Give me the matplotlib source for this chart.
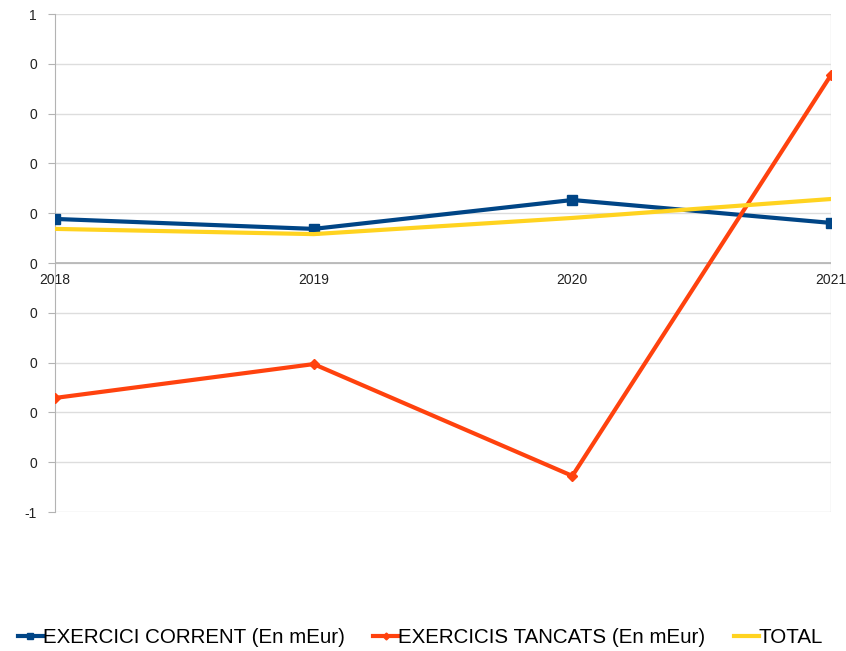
import numpy as np
import matplotlib.pyplot as plt
from matplotlib.ticker import FuncFormatter

years = ['2018', '2019', '2020', '2021']
corrent = [0.177, 0.137, 0.253, 0.161]
tancats = [-0.542, -0.406, -0.855, 0.755]
total = [0.137, 0.116, 0.181, 0.257]

plt.rcParams['font.family'] = ['Liberation Sans', 'DejaVu Sans']

fig = plt.figure(figsize=(8.46, 6.51), dpi=100)
ax = fig.add_axes([55 / 846, (651 - 512) / 651, 776 / 846, 498 / 651])

x = np.arange(len(years))
ax.plot(x, corrent, color='#004586', lw=3, marker='s', ms=7, label='EXERCICI CORRENT (En mEur)', zorder=3)
ax.plot(x, tancats, color='#ff420e', lw=3, marker='D', ms=5, label='EXERCICIS TANCATS (En mEur)', zorder=3)
ax.plot(x, total, color='#ffd320', lw=3, label='TOTAL', zorder=3)

ax.set_xlim(0, 3)
ax.set_ylim(-1, 1)
ax.set_yticks(np.arange(-1, 1.01, 0.2))
# labels are rounded to whole numbers, as in the original
ax.yaxis.set_major_formatter(FuncFormatter(lambda v, p: '%d' % round(v) if abs(v) > 0.99 else '0'))
ax.grid(axis='y', color='#dddddd', lw=1)
ax.axvline(3, color='#dddddd', lw=1)
ax.axhline(0, color='#b3b3b3', lw=1.2, zorder=2)
ax.set_xticks([])
for i, yr in enumerate(years):
    ax.text(i, -0.04, yr, ha='center', va='top', fontsize=10, color='#222222')

for s in ['top', 'right', 'bottom']:
    ax.spines[s].set_visible(False)
ax.spines['left'].set_color('#b3b3b3')
ax.tick_params(axis='y', length=5, color='#b3b3b3', labelsize=10, labelcolor='#222222', pad=8)
ax.set_axisbelow(True)

fig.legend(loc='center', bbox_to_anchor=(0.497, 0.02), ncol=3, frameon=False,
           fontsize=14.8, handlelength=1.2, handletextpad=0.0, columnspacing=1.4,
           markerscale=0.7)

fig.savefig('out.png', dpi=100)
